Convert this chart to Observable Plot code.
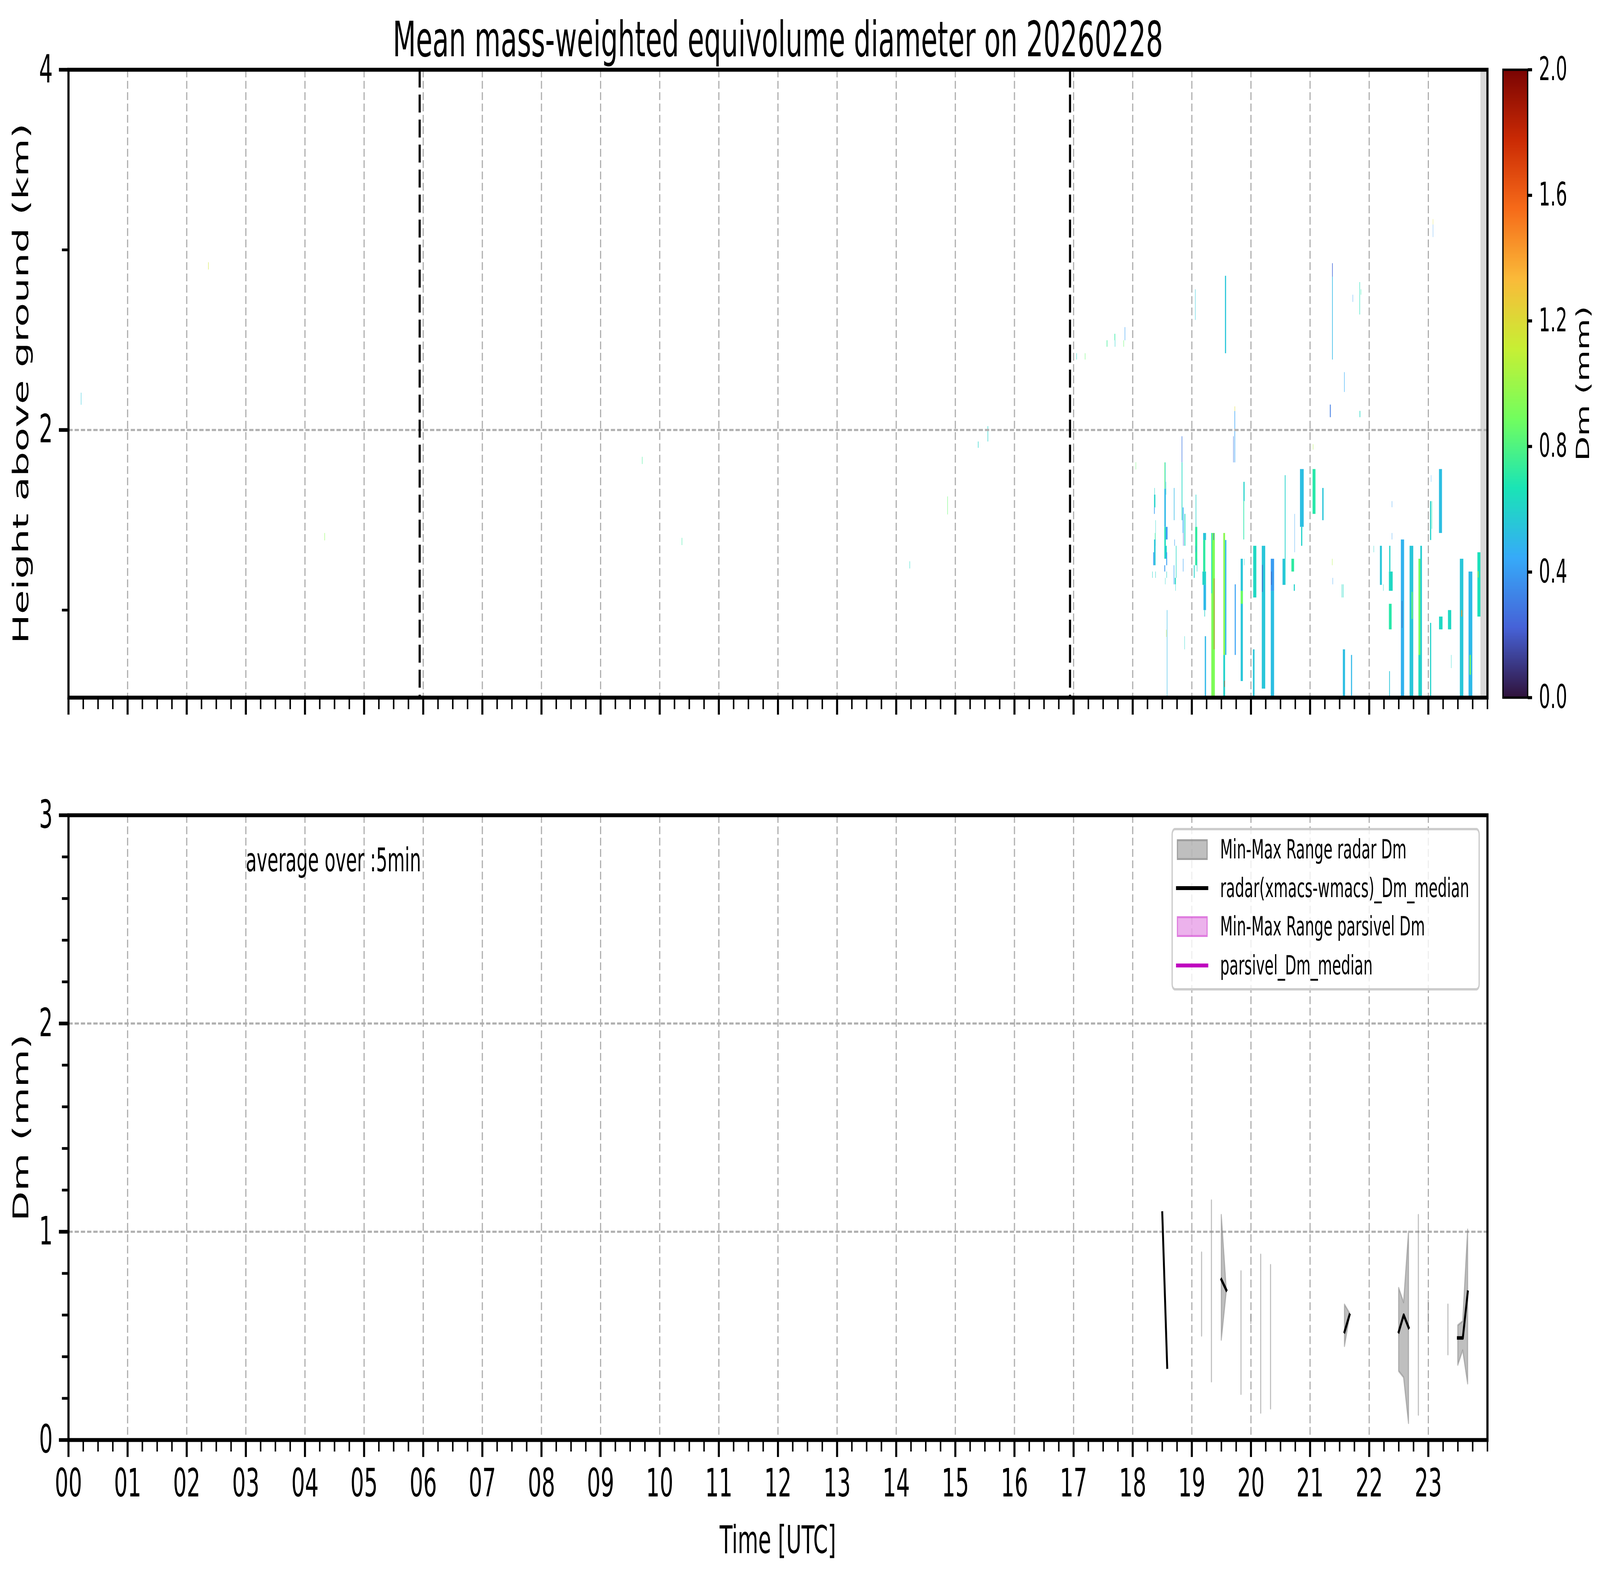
<!DOCTYPE html>
<html><head><meta charset="utf-8">
<script src="https://cdn.jsdelivr.net/npm/d3@7"></script>
<script src="https://cdn.jsdelivr.net/npm/@observablehq/plot@0.6"></script>
<style>
html,body{margin:0;padding:0;background:#fff;overflow:hidden;}
#fig{position:relative;width:7442px;height:4031px;overflow:hidden;font-family:"DejaVu Sans";color:#000;background:#fff;transform-origin:0 0;}
.t{position:absolute;white-space:nowrap;font-family:"DejaVu Sans";color:#000;}
</style></head>
<body><div id="fig"></div>
<script>
// ---------------- data ----------------
const titleText = "Mean mass-weighted equivolume diameter on 20260228";
const turboStops = ['#30123b','#4662d7','#36aaf9','#1ae4b6','#72fe5e','#c7ef34','#faba39','#f66b19','#ca2a04','#7a0403'];
const dmDomain = [0, 2];
const colorbarTicks = [0, 0.4, 0.8, 1.2, 1.6, 2.0];
const hourDomain = [0, 24];
const hourTicks = d3.range(0, 24);
const quarterTicks = d3.range(1, 97).map(i => i / 4).filter(h => h % 1 !== 0 || h === 24);
const gridHours = d3.range(1, 24);
const heightDomain = [0.514, 4];
const heightTicks = [2, 4];
const heightMinorTicks = [1, 3];
const heightGrid = [2];
const dmAxisDomain = [0, 3];
const dmTicks = [0, 1, 2, 3];
const dmMinorTicks = d3.range(1, 15).map(i => i / 5).filter(v => Math.abs(v - Math.round(v)) > 1e-6);
const dmGrid = [1, 2];
const markerHours = [5.94, 16.94];
const noDataStart = 23.883;
const annotation = "average over :5min";

// radar Dm cells: [t0 (h), t1 (h), bottom (km), top (km), Dm (mm)]
const cellsSparse = [
  [0.213,0.219,2.139,2.206,0.55],[2.365,2.371,2.890,2.930,1.15],[4.332,4.338,1.386,1.427,0.95],
  [9.703,9.709,1.810,1.850,0.75],[10.375,10.381,1.360,1.400,0.72],[14.228,14.234,1.230,1.270,0.62],
  [14.868,14.874,1.530,1.630,0.85],[15.385,15.393,1.900,1.935,0.60],[15.548,15.556,1.935,2.020,0.60],
  [17.050,17.056,2.390,2.425,0.62],[17.194,17.200,2.390,2.425,0.85],[17.563,17.572,2.461,2.497,0.75],
  [17.695,17.705,2.497,2.533,0.72],[17.700,17.706,2.461,2.497,0.60],[17.847,17.853,2.461,2.497,0.85],
  [17.867,17.874,2.497,2.570,0.42],[18.053,18.058,1.780,1.820,0.85]
];
const cells18 = [
  [18.363,18.385,1.569,1.640,0.60],[18.369,18.375,1.640,1.677,0.60],[18.363,18.374,1.533,1.569,0.42],
  [18.378,18.388,1.356,1.427,0.72],[18.363,18.388,1.248,1.391,0.55],[18.349,18.363,1.248,1.320,0.42],
  [18.333,18.339,1.178,1.213,0.60],[18.385,18.391,1.178,1.213,0.60],[18.386,18.391,1.427,1.498,0.60],
  [18.539,18.548,1.673,1.819,0.85],[18.548,18.557,1.673,1.819,0.60],[18.537,18.562,1.461,1.673,0.50],
  [18.537,18.562,1.356,1.461,0.65],[18.562,18.591,1.391,1.461,0.40],[18.537,18.578,1.284,1.356,0.60],
  [18.569,18.584,1.248,1.320,0.42],[18.537,18.551,1.213,1.248,0.40],[18.573,18.580,1.178,1.213,0.60],
  [18.550,18.555,1.142,1.178,0.60],[18.563,18.568,1.640,1.711,0.60],[18.580,18.587,0.514,0.999,0.50],
  [18.569,18.574,0.850,0.890,1.15],
  [18.698,18.707,1.498,1.677,0.50],[18.707,18.714,1.356,1.391,0.42],[18.732,18.741,1.178,1.356,0.62],
  [18.696,18.705,1.142,1.248,0.45],[18.714,18.732,1.142,1.178,0.62],[18.724,18.729,1.106,1.142,0.60],
  [18.830,18.839,1.819,1.964,0.30],[18.830,18.841,1.498,1.819,0.62],[18.848,18.862,1.427,1.569,0.45],
  [18.877,18.891,1.356,1.533,0.62],[18.855,18.862,1.356,1.427,0.25],[18.852,18.859,1.213,1.284,0.42],
  [18.878,18.883,0.781,0.854,0.60]
];
const cells19 = [
  [19.058,19.064,2.610,2.780,0.55],[19.067,19.076,1.461,1.640,0.60],[19.058,19.094,1.248,1.461,0.72],
  [19.065,19.072,1.320,1.356,0.40],[19.036,19.049,1.178,1.248,0.60],[19.087,19.094,1.213,1.284,0.60],
  [19.193,19.242,1.388,1.427,0.55],[19.193,19.230,1.213,1.388,0.72],[19.181,19.242,1.139,1.213,0.60],
  [19.199,19.242,0.999,1.139,0.50],[19.215,19.224,0.963,0.999,0.60],[19.221,19.242,0.514,0.854,0.50],
  [19.331,19.391,0.514,1.427,0.92],[19.376,19.383,0.781,1.175,1.65],[19.331,19.345,1.092,1.427,0.65],
  [19.365,19.376,1.388,1.427,0.30],
  [19.534,19.564,0.750,1.427,0.95],[19.564,19.586,0.750,1.388,0.50],[19.534,19.564,0.514,0.750,0.60],
  [19.552,19.559,0.572,0.607,1.70],[19.562,19.581,2.425,2.855,0.55],
  [19.724,19.733,1.819,2.104,0.42],[19.702,19.709,1.819,1.964,0.30],[19.726,19.732,2.104,2.130,1.20],
  [19.875,19.894,1.604,1.711,0.60],[19.875,19.886,1.391,1.604,0.70],[19.888,19.893,1.248,1.284,0.60],
  [19.828,19.865,0.605,1.284,0.55],[19.828,19.865,1.034,1.106,0.88],[19.727,19.745,0.750,1.142,0.42]
];
const cells20 = [
  [20.040,20.093,1.069,1.356,0.62],[20.035,20.062,0.514,0.781,0.55],
  [20.185,20.243,0.563,1.356,0.55],[20.190,20.200,1.100,1.250,0.20],
  [20.337,20.393,0.514,1.106,0.52],[20.337,20.393,1.106,1.284,0.40],[20.345,20.352,1.139,1.213,0.15],
  [20.574,20.586,1.139,1.748,0.60],[20.536,20.574,1.139,1.284,0.55],
  [20.686,20.731,1.213,1.284,0.72],[20.726,20.744,1.106,1.142,0.60],[20.738,20.743,1.320,1.533,0.42],
  [20.831,20.894,1.461,1.782,0.52],[20.850,20.870,1.356,1.461,0.60]
];
const cells21 = [
  [21.044,21.093,1.533,1.782,0.70],[21.050,21.055,1.890,1.920,1.05],[21.208,21.230,1.498,1.677,0.55],
  [21.337,21.351,2.070,2.140,0.30],[21.375,21.385,2.390,2.850,0.50],[21.375,21.385,2.850,2.925,0.25],
  [21.375,21.380,1.248,1.284,1.05],[21.383,21.388,1.142,1.178,0.42],[21.578,21.585,2.210,2.320,0.45],
  [21.722,21.727,2.710,2.750,0.42],[21.838,21.845,2.640,2.820,0.65],[21.860,21.865,2.750,2.780,0.70],
  [21.840,21.850,2.070,2.105,0.62],[21.556,21.593,0.514,0.781,0.52],[21.694,21.712,0.524,0.750,0.50],
  [21.538,21.545,1.069,1.142,0.62],[21.559,21.566,1.069,1.142,0.62]
];
const cells22 = [
  [22.077,22.082,1.320,1.356,0.60],[22.183,22.216,1.139,1.356,0.55],[22.238,22.243,1.106,1.142,0.60],
  [22.335,22.399,1.106,1.213,0.62],[22.335,22.381,0.892,1.034,0.70],[22.340,22.360,1.213,1.356,0.60],
  [22.384,22.389,1.570,1.604,0.42],[22.384,22.389,1.391,1.427,0.42],[22.340,22.352,0.514,0.660,0.55],
  [22.537,22.592,0.514,1.391,0.48],[22.555,22.561,0.900,1.050,0.15],
  [22.685,22.747,0.514,1.356,0.55],[22.720,22.735,0.950,1.100,0.90],
  [22.835,22.866,0.514,1.284,0.88],[22.866,22.894,0.514,1.356,0.58],[22.835,22.866,0.514,0.750,0.62]
];
const cells23 = [
  [23.031,23.050,1.388,1.604,0.60],[23.060,23.066,1.450,1.604,0.70],[23.182,23.233,1.427,1.782,0.52],
  [23.048,23.052,1.711,1.748,0.42],[23.079,23.083,3.070,3.140,0.40],[23.079,23.083,3.140,3.170,1.20],
  [23.031,23.050,0.514,0.928,0.60],[23.183,23.242,0.892,0.963,0.62],[23.334,23.389,0.892,0.999,0.62],
  [23.387,23.392,0.677,0.750,0.60],[23.535,23.594,0.514,1.284,0.55],[23.560,23.575,0.963,0.999,1.45],
  [23.682,23.746,0.514,1.213,0.50],[23.700,23.720,0.640,0.750,0.92],[23.832,23.883,0.963,1.320,0.65],
  [23.840,23.850,1.180,1.215,1.15]
];

// 5-min radar Dm statistics (null = no data)
const radarMinute = [1110,1115,1120, 1150,1155, 1160,1165, 1170,1175,1180, 1190,1195, 1200,1205, 1210,1215, 1220,1225, 1295,1300,1305, 1350,1355,1360,1365, 1370,1375, 1380,1385, 1400,1405, 1410,1415,1420];
const radarMedian = [1.09,0.35,null, null,null, null,null, 0.77,0.72,null, null,null, null,null, null,null, null,null, 0.52,0.60,null, 0.52,0.60,0.54,null, null,null, null,null, null,null, 0.49,0.49,0.71];
const radarMin    = [1.09,0.35,null, 0.50,null, 0.28,null, 0.48,0.71,null, 0.22,null, 0.56,null, 0.13,null, 0.15,null, 0.45,0.59,null, 0.33,0.30,0.08,null, 0.12,null, 0.52,null, 0.41,null, 0.36,0.43,0.27];
const radarMax    = [1.09,0.35,null, 0.90,null, 1.15,null, 1.08,0.725,null, 0.81,null, 0.60,null, 0.89,null, 0.84,null, 0.65,0.61,null, 0.73,0.66,1.00,null, 1.08,null, 0.67,null, 0.65,null, 0.55,0.57,1.01];
// parsivel: no data this day
const parsivelMinute = [];
const parsivelMedian = [];
const parsivelMin = [];
const parsivelMax = [];

const legendEntries = [
  {label: "Min-Max Range radar Dm", kind: "patch", fill: "rgba(128,128,128,0.5)"},
  {label: "radar(xmacs-wmacs)_Dm_median", kind: "line", color: "#000000"},
  {label: "Min-Max Range parsivel Dm", kind: "patch", fill: "rgba(191,0,191,0.3)"},
  {label: "parsivel_Dm_median", kind: "line", color: "#bf00bf"}
];

// ---------------- build ----------------
const fig = document.getElementById("fig");
const W = 7442, H = 4031, axL = 318, axR = 6918;
const cells = [...cellsSparse, ...cells18, ...cells19, ...cells20, ...cells21, ...cells22, ...cells23];
const radar = radarMinute.map((m, i) => ({t: m / 60, med: radarMedian[i], lo: radarMin[i], hi: radarMax[i]}));
const parsivel = parsivelMinute.map((m, i) => ({t: m / 60, med: parsivelMedian[i], lo: parsivelMin[i], hi: parsivelMax[i]}));
const colorScale = {type: "linear", domain: turboStops.map((_, i) => dmDomain[0] + (dmDomain[1] - dmDomain[0]) * i / (turboStops.length - 1)), range: turboStops, interpolate: "rgb", clamp: true};
const baseStyle = {fontFamily: "DejaVu Sans", fontSize: "100px", color: "black", background: "transparent", overflow: "visible"};
const gridStyle = {stroke: "#b0b0b0", strokeOpacity: 1, strokeWidth: 5.5, strokeDasharray: "20,9"};
const blank = () => "";
const plain = d => String(d);
const spine = 10, majorW = 9.5, minorW = 7;

function place(el, left, top) {
  el.style.position = "absolute"; el.style.left = left + "px"; el.style.top = top + "px"; el.style.maxWidth = "none";
  fig.appendChild(el);
}

// upper panel
const upper = Plot.plot({
  width: W, height: 1845, marginLeft: axL, marginRight: W - axR, marginTop: 178, marginBottom: 60,
  style: baseStyle,
  x: {domain: hourDomain}, y: {domain: heightDomain}, color: colorScale,
  marks: [
    Plot.rect([noDataStart], {x1: d => d, x2: () => hourDomain[1], y1: () => heightDomain[0], y2: () => heightDomain[1], fill: "#d9d9d9"}),
    Plot.rect(cells, {x1: d => d[0], x2: d => d[1], y1: d => d[2], y2: d => d[3], fill: d => d[4]}),
    Plot.gridX(gridHours, gridStyle),
    Plot.gridY(heightGrid, gridStyle),
    Plot.ruleX(markerHours, {stroke: "black", strokeWidth: 10, strokeDasharray: "46,18"}),
    Plot.frame({stroke: "black", strokeWidth: spine}),
    Plot.axisX({ticks: hourTicks, tickSize: 44, strokeWidth: majorW, tickFormat: blank, label: null}),
    Plot.axisX({ticks: quarterTicks, tickSize: 30, strokeWidth: minorW, tickFormat: blank, label: null}),
    Plot.axisY({ticks: heightTicks, tickSize: 44, tickPadding: 29, strokeWidth: majorW, fontSize: 100, tickFormat: plain, label: null}),
    Plot.axisY({ticks: heightMinorTicks, tickSize: 30, strokeWidth: minorW, tickFormat: blank, label: null})
  ]
});
place(upper, 0, 0);

// colorbar
const cbN = 400, cbStep = (dmDomain[1] - dmDomain[0]) / cbN;
const cbValues = d3.range(cbN).map(i => dmDomain[0] + i * cbStep);
const colorbar = Plot.plot({
  width: 452, height: 1845, marginLeft: 90, marginRight: 247, marginTop: 178, marginBottom: 60,
  style: baseStyle,
  x: {domain: [0, 1], axis: null}, y: {domain: dmDomain}, color: colorScale,
  marks: [
    Plot.rect(cbValues, {x1: () => 0, x2: () => 1, y1: d => d, y2: d => Math.min(dmDomain[1], d + cbStep * 1.6), fill: d => d + cbStep / 2}),
    Plot.frame({stroke: "black", strokeWidth: 6}),
    Plot.axisY({anchor: "right", ticks: colorbarTicks, tickSize: 20, tickPadding: 32, strokeWidth: 8, fontSize: 83, tickFormat: d => d.toFixed(1), label: null})
  ]
});
place(colorbar, 6900, 0);

// lower panel
const lower = Plot.plot({
  width: W, height: 1965, marginLeft: axL, marginRight: W - axR, marginTop: 186, marginBottom: 180,
  style: baseStyle,
  x: {domain: hourDomain}, y: {domain: dmAxisDomain},
  marks: [
    Plot.gridX(gridHours, gridStyle),
    Plot.gridY(dmGrid, gridStyle),
    Plot.areaY(radar, {x: "t", y1: "lo", y2: "hi", fill: "#808080", fillOpacity: 0.5, stroke: "#808080", strokeOpacity: 0.5, strokeWidth: 5}),
    Plot.areaY(parsivel, {x: "t", y1: "lo", y2: "hi", fill: "#bf00bf", fillOpacity: 0.3, stroke: "#bf00bf", strokeOpacity: 0.3, strokeWidth: 5}),
    Plot.lineY(radar, {x: "t", y: "med", stroke: "black", strokeWidth: 9, strokeLinecap: "square", strokeLinejoin: "round"}),
    Plot.lineY(parsivel, {x: "t", y: "med", stroke: "#bf00bf", strokeWidth: 9}),
    Plot.text([annotation], {x: () => 3, y: () => 2.78, text: d => d, textAnchor: "start", lineAnchor: "middle", fontSize: 83, fill: "black"}),
    Plot.frame({stroke: "black", strokeWidth: spine}),
    Plot.axisX({ticks: hourTicks, tickSize: 44, tickPadding: 29, strokeWidth: majorW, fontSize: 100, tickFormat: d => String(d).padStart(2, "0"), label: null}),
    Plot.axisX({ticks: quarterTicks, tickSize: 30, strokeWidth: minorW, tickFormat: blank, label: null}),
    Plot.axisY({ticks: dmTicks, tickSize: 44, tickPadding: 29, strokeWidth: majorW, fontSize: 100, tickFormat: plain, label: null}),
    Plot.axisY({ticks: dmMinorTicks, tickSize: 30, strokeWidth: minorW, tickFormat: blank, label: null})
  ]
});
place(lower, 0, 1900);

// texts
function hText(str, cx, baseline, size) {
  const d = document.createElement("div");
  d.className = "t"; d.textContent = str;
  Object.assign(d.style, {left: (cx - 3000) + "px", top: (baseline - 0.846 * size) + "px", width: "6000px",
    textAlign: "center", fontSize: size + "px", lineHeight: size + "px"});
  fig.appendChild(d);
}
function vText(str, cx, cy, size) {
  const d = document.createElement("div");
  d.className = "t"; d.textContent = str;
  Object.assign(d.style, {left: (cx - 1000) + "px", top: (cy - size / 2) + "px", width: "2000px", height: size + "px",
    textAlign: "center", fontSize: size + "px", lineHeight: size + "px", transform: "rotate(-90deg)", transformOrigin: "50% 50%"});
  fig.appendChild(d);
}
hText(titleText, (axL + axR) / 2, 144, 125);
vText("Height above ground (km)", 97, 981.5, 101);
vText("Dm (mm)", 97, 2886, 100);
hText("Time [UTC]", (axL + axR) / 2, 3975, 98);
vText("Dm (mm)", 7362, 981.5, 83);

// legend
const lg = document.createElement("div");
Object.assign(lg.style, {position: "absolute", left: "5449px", top: "2119px", width: "1434px", height: "416px",
  boxSizing: "border-box", border: "6px solid #cccccc", borderRadius: "16px", background: "rgba(255,255,255,0.8)"});
const rowCenters = [55, 154, 252, 352];
legendEntries.forEach((e, i) => {
  const cy = rowCenters[i] - 6;
  const sw = document.createElement("div");
  if (e.kind === "patch") {
    Object.assign(sw.style, {position: "absolute", left: "19px", top: (cy - 26.5) + "px", width: "143px", height: "53px",
      boxSizing: "border-box", background: e.fill, border: "5px solid " + e.fill});
  } else {
    Object.assign(sw.style, {position: "absolute", left: "15px", top: (cy - 5) + "px", width: "150px", height: "10px", background: e.color});
  }
  lg.appendChild(sw);
  const tx = document.createElement("div");
  tx.className = "t"; tx.textContent = e.label;
  Object.assign(tx.style, {left: "220px", top: (cy - 40) + "px", height: "80px", lineHeight: "80px", fontSize: "68px"});
  lg.appendChild(tx);
});
fig.appendChild(lg);

// fit the 7442x4031 figure into the actual viewport
function fit() {
  const vw = document.documentElement.clientWidth || window.innerWidth;
  const vh = document.documentElement.clientHeight || window.innerHeight;
  const sx = Math.min(1, vw / W), sy = Math.min(1, vh / H);
  fig.style.transform = (sx === 1 && sy === 1) ? "none" : `scale(${sx}, ${sy})`;
}
fit();
window.addEventListener("resize", fit);
</script>
</body></html>
